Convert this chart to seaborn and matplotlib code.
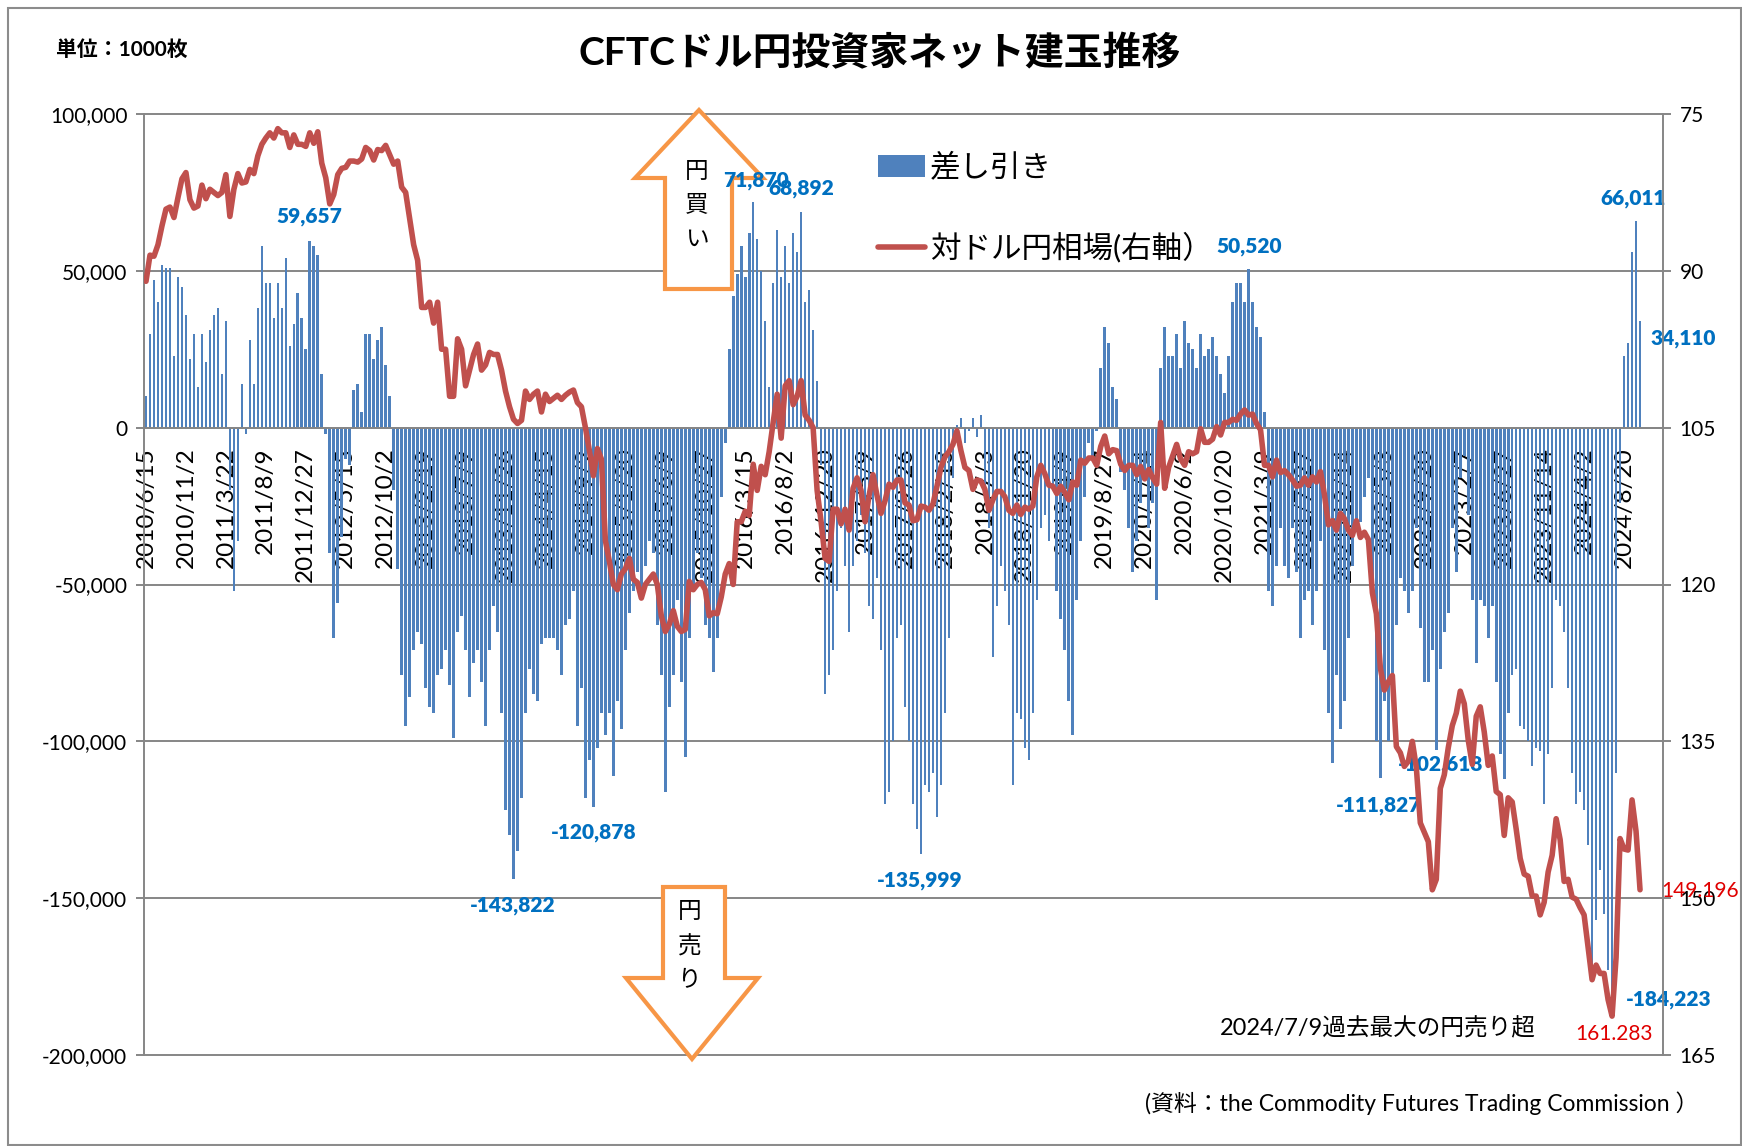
import numpy as np
import pandas as pd
import matplotlib
matplotlib.use('Agg')
import matplotlib.pyplot as plt
import seaborn as sns
from matplotlib.patches import Patch, Polygon, Rectangle
from matplotlib.lines import Line2D
from matplotlib.ticker import FuncFormatter

W, H = 1742, 1146

# CFTC net yen position (1000 contracts), one value every other week from 2010/6/15
net_2010_2014 = [
    10, 30, 47, 40, 52, 51, 51, 23, 48, 45,
    36, 22, 30, 13, 30, 21, 31, 36, 38, 17,
    34, -20, -52, -36, 14, -2, 28, 14, 38, 58,
    46, 46, 35, 46, 38, 54, 26, 33, 43, 35,
    25, 59.657, 58, 55, 17, -2, -40, -67, -56, -35,
    -10, -12, 12, 14, 5, 30, 30, 22, 28, 32,
    20, 10, -20, -45, -79, -95, -86, -71, -65, -69,
    -83, -89, -91, -79, -77, -71, -82, -99, -65, -60,
    -71, -86, -75, -71, -81, -95, -71, -57, -65, -91,
    -122, -130, -143.822, -135, -118, -91, -77, -85, -87, -69,
]
net_2014_2018 = [
    -67, -67, -67, -71, -79, -63, -61, -52, -95, -83,
    -118, -106, -120.878, -102, -91, -98, -91, -111, -87, -96,
    -71, -59, -52, -46, -55, -44, -36, -40, -63, -79,
    -116, -89, -79, -55, -81, -105, -67, -50, -40, -48,
    -63, -67, -78, -67, -22, -5, 25, 42, 49, 58,
    48, 62, 71.870, 60, 50, 34, 13, 46, 63, 48,
    58, 46, 62, 56, 68.892, 40, 44, 31, 15, -12,
    -85, -79, -71, -52, -32, -44, -65, -44, -36, -28,
    -40, -57, -61, -48, -71, -120, -116, -100, -67, -63,
    -89, -100, -120, -128, -135.999, -114, -116, -110, -124, -114,
]
net_2018_2021 = [
    -91, -67, -16, 1, 3, -5, -1, 3, -3, 4,
    -20, -32, -73, -57, -44, -52, -63, -114, -91, -93,
    -102, -106, -91, -55, -32, -28, -36, -20, -52, -61,
    -71, -87, -98, -55, -36, -22, -5, -9, -1, 19,
    32, 27, 13, 9, -14, -20, -32, -46, -36, -24,
    -16, -32, -24, -55, 19, 32, 23, 23, 30, 19,
    34, 27, 25, 19, 30, 23, 25, 29, 23, 17,
    11, 23, 40, 46, 46, 40, 50.520, 40, 32, 29,
    5, -52, -57, -44, -32, -44, -48, -32, -46, -67,
    -55, -52, -63, -52, -36, -71, -91, -107, -79, -96,
]
net_2021_2024 = [
    -87, -67, -44, -32, -30, -22, -16, -48, -100, -111.827,
    -87, -100, -83, -63, -48, -52, -59, -52, -32, -64,
    -81, -81, -71, -102.618, -77, -65, -59, -32, -46, -16,
    -9, -28, -55, -75, -55, -57, -67, -57, -81, -104,
    -112, -91, -79, -77, -95, -96, -100, -108, -102, -103,
    -120, -104, -83, -55, -57, -65, -83, -110, -120, -116,
    -122, -133, -173, -157, -141, -155, -173, -184.223, -110, -24,
    23, 27, 56, 66.011, 34.110,
]

# USD/JPY (right axis), same dates
yen_2010_2014 = [
    91.0, 88.5, 88.6, 87.5, 85.7, 84.1, 83.9, 84.9, 83.0, 81.2,
    80.6, 83.2, 84.0, 83.8, 81.8, 83.1, 82.2, 82.5, 82.8, 82.5,
    80.8, 84.8, 82.2, 80.7, 81.6, 81.5, 80.3, 80.7, 79.0, 77.9,
    77.3, 76.8, 77.3, 76.4, 76.8, 76.8, 78.2, 77.0, 77.9, 77.9,
    78.1, 76.8, 77.8, 76.7, 79.7, 81.1, 83.6, 82.7, 80.8, 80.2,
    80.1, 79.5, 79.5, 79.6, 79.3, 78.2, 78.5, 79.4, 78.4, 78.5,
    78.0, 78.9, 79.8, 79.5, 82.0, 82.5, 85.0, 87.5, 89.0, 93.5,
    93.5, 93.0, 95.0, 93.0, 97.5, 97.5, 102.0, 102.0, 96.5, 97.5,
    101.0, 99.5, 98.0, 97.0, 99.5, 99.0, 97.8, 98.0, 98.0, 99.5,
    101.5, 103.0, 104.2, 104.6, 104.3, 101.5, 102.3, 101.8, 101.5, 103.5,
]
yen_2014_2018 = [
    101.8, 102.5, 102.2, 101.9, 102.3, 101.9, 101.6, 101.4, 102.6, 103.0,
    105.0, 107.2, 109.6, 107.0, 108.0, 115.8, 117.8, 120.0, 120.5, 119.0,
    118.5, 117.5, 119.5, 119.8, 121.3, 120.0, 119.5, 119.0, 120.0, 123.0,
    124.5, 123.8, 122.5, 124.0, 124.5, 124.3, 119.7, 120.5, 120.0, 119.8,
    120.5, 123.0, 122.7, 122.8, 121.2, 119.0, 118.0, 120.0, 114.0, 114.0,
    113.0, 113.4, 108.5, 111.0, 108.7, 109.5, 107.3, 104.5, 101.8, 106.0,
    101.0, 100.5, 102.8, 102.0, 100.5, 103.8, 104.3, 105.0, 111.0, 114.0,
    117.5, 117.8, 112.8, 112.8, 114.2, 112.8, 114.8, 110.8, 109.8, 111.0,
    114.0, 111.5, 109.5, 111.5, 113.2, 112.0, 110.4, 110.7, 110.0, 110.0,
    112.2, 112.4, 113.9, 113.8, 112.5, 112.6, 112.9, 112.3, 110.6, 108.8,
]
yen_2018_2021 = [
    107.8, 107.3, 106.6, 105.3, 107.2, 108.8, 109.1, 110.9, 110.0, 110.1,
    110.9, 112.9, 111.9, 111.1, 111.1, 111.6, 112.9, 113.2, 112.4, 113.3,
    112.6, 112.8, 112.5, 109.7, 108.6, 109.4, 110.5, 110.6, 111.3, 110.6,
    111.2, 111.9, 110.2, 110.5, 108.1, 108.4, 107.9, 107.9, 108.6, 106.8,
    105.8, 107.5, 107.1, 107.2, 108.5, 109.1, 108.6, 108.6, 109.5, 108.7,
    109.9, 109.0, 109.8, 110.4, 104.5, 110.8, 108.8, 107.7, 106.6, 108.0,
    108.6, 107.3, 107.5, 107.3, 105.1, 106.4, 106.4, 106.1, 104.9, 105.7,
    104.5, 104.5, 104.2, 104.3, 103.7, 103.3, 103.8, 103.7, 104.6, 105.2,
    108.6, 108.6, 109.7, 108.1, 109.3, 109.1, 109.5, 110.0, 110.6, 110.5,
    109.8, 110.5, 109.7, 110.2, 109.2, 111.4, 114.3, 113.9, 114.8, 113.2,
]
yen_2021_2024 = [
    113.7, 114.8, 115.3, 113.9, 115.5, 115.0, 115.7, 120.8, 122.8, 128.0,
    130.1, 129.3, 128.7, 135.5, 136.1, 137.4, 136.9, 135.0, 137.5, 142.8,
    143.7, 144.6, 149.2, 148.2, 139.5, 138.2, 135.6, 133.5, 132.3, 130.2,
    131.4, 134.9, 137.2, 132.6, 131.7, 134.1, 137.3, 136.4, 139.8, 140.1,
    144.0, 140.4, 140.8, 143.4, 146.2, 147.7, 147.9, 149.8, 149.8, 151.6,
    150.4, 147.5, 145.9, 142.4, 144.4, 148.4, 148.2, 149.9, 150.1, 150.9,
    151.6, 154.7, 157.8, 156.4, 157.2, 157.2, 159.7, 161.283, 155.7, 144.3,
    145.3, 145.4, 140.6, 143.6, 149.196,
]

tick_labels = [
    '2010/6/15', '2010/11/2', '2011/3/22', '2011/8/9', '2011/12/27',
    '2012/5/15', '2012/10/2', '2013/2/19', '2013/7/9', '2013/11/26',
    '2014/4/15', '2014/9/2', '2015/1/20', '2015/6/9', '2015/10/27',
    '2016/3/15', '2016/8/2', '2016/12/20', '2017/5/9', '2017/9/26',
    '2018/2/13', '2018/7/3', '2018/11/20', '2019/4/9', '2019/8/27',
    '2020/1/14', '2020/6/2', '2020/10/20', '2021/3/9', '2021/7/27',
    '2021/12/14', '2022/5/3', '2022/9/20', '2023/2/7', '2023/6/27',
    '2023/11/14', '2024/4/2', '2024/8/20',
]

# points that carry a value label
net_labelled = [41, 152, 164, 276, 373, 374, 92, 112, 194, 309, 323, 367]
yen_labelled = [367, 374]

BLUE = '#4F81BD'
RED = '#C0504D'
GRID = '#868686'
LABEL_BLUE = '#0070C0'
ORANGE = '#F79646'


def fx(x):
    return x / W


def fy(y):
    return 1 - y / H


def main():
    sns.set_style('white')
    plt.rcParams['font.family'] = ['Lato', 'Noto Sans CJK JP']
    plt.rcParams['text.color'] = 'black'
    plt.rcParams['xtick.color'] = 'black'
    plt.rcParams['ytick.color'] = 'black'

    net = np.array(net_2010_2014 + net_2014_2018 + net_2018_2021 + net_2021_2024)
    yen = np.array(yen_2010_2014 + yen_2014_2018 + yen_2018_2021 + yen_2021_2024)
    df = pd.DataFrame({'week': np.arange(len(net)) * 2, 'net': net, 'yen': yen})

    fig = plt.figure(figsize=(W / 100, H / 100), dpi=100)
    ax = fig.add_axes([fx(144), fy(1055), (1663 - 144) / W, (1055 - 114) / H])

    sns.barplot(data=df, x='week', y='net', native_scale=True, color=BLUE,
                saturation=1, width=0.65, errorbar=None, linewidth=0, ax=ax)

    for v in np.arange(-200, 101, 50):
        ax.axhline(v, color=GRID, lw=1.4, zorder=0.5, clip_on=False)

    ax.set_ylim(-200, 100)
    ax.set_yticks(np.arange(-200, 101, 50))
    ax.yaxis.set_major_formatter(FuncFormatter(lambda v, p: f'{v * 1000:,.0f}'))
    ax.set_xticks(np.arange(0, 20 * len(tick_labels), 20))
    ax.set_xticklabels(tick_labels)
    ax.set_xlabel('')
    ax.set_ylabel('')
    for s in ['top', 'right']:
        ax.spines[s].set_visible(False)
    ax.spines['bottom'].set_position(('data', 0))
    for s in ['bottom', 'left']:
        ax.spines[s].set_color(GRID)
        ax.spines[s].set_linewidth(1.4)
    ax.tick_params(axis='y', direction='out', length=6, width=1.4, color=GRID,
                   labelsize=15, pad=6)
    ax.tick_params(axis='x', direction='in', length=7, width=1.4, color=GRID,
                   labelsize=17.5, pad=14, labelrotation=90)

    for i in net_labelled:
        v = net[i]
        offs = {41: (0, 24), 152: (3, 22), 164: (0, 23), 276: (1, 23),
                373: (-3, 22), 374: (43, -18), 92: (-1, -27), 112: (0, -26),
                194: (-1, -26), 309: (-2, -27), 323: (4, -15), 367: (57, 6)}[i]
        ax.annotate(f'{round(v * 1000):,}', xy=(df.week[i], v),
                    xytext=(offs[0] * 0.72, offs[1] * 0.72), textcoords='offset points',
                    ha='center', va='center', fontsize=15, fontweight='heavy',
                    color=LABEL_BLUE, annotation_clip=False, zorder=4)

    # buy / sell arrows, above gridlines but under the value labels
    up = [(699, 110), (763, 178), (732, 178), (732, 289), (665, 289), (665, 178), (635, 178)]
    down = [(663, 887), (725, 887), (725, 978), (758, 978), (692, 1059), (626, 978), (663, 978)]
    for pts in (up, down):
        ax.add_patch(Polygon([(fx(x), fy(y)) for x, y in pts], closed=True,
                             transform=fig.transFigure, facecolor='white',
                             edgecolor=ORANGE, lw=3, zorder=2, clip_on=False))
    for j, ch in enumerate('円買い'):
        ax.text(fx(697), fy(171 + 34 * j), ch, ha='center', va='center',
                fontsize=17, zorder=3, transform=fig.transFigure)
    for j, ch in enumerate('円売り'):
        ax.text(fx(690), fy(911 + 35 * j), ch, ha='center', va='center',
                fontsize=17, zorder=3, transform=fig.transFigure)

    ax2 = ax.twinx()
    sns.lineplot(data=df, x='week', y='yen', ax=ax2, color=RED, lw=4.0,
                 legend=False, solid_joinstyle='round', solid_capstyle='round')
    ax2.set_ylim(165, 75)
    ax2.set_yticks(np.arange(75, 166, 15))
    ax2.set_ylabel('')
    for s in ['top', 'bottom', 'left']:
        ax2.spines[s].set_visible(False)
    ax2.spines['right'].set_color(GRID)
    ax2.spines['right'].set_linewidth(1.4)
    ax2.tick_params(axis='y', direction='out', length=6, width=1.4, color=GRID,
                    labelsize=15, pad=6)

    for i, offs in zip(yen_labelled, [(2, -18), (60, -1)]):
        ax2.annotate(f'{yen[i]:.3f}', xy=(df.week[i], yen[i]),
                     xytext=(offs[0] * 0.72, offs[1] * 0.72), textcoords='offset points',
                     ha='center', va='center', fontsize=15, color='#E00000',
                     annotation_clip=False)

    ax.set_xlim(-1, 759.5)

    handles = [Patch(facecolor=BLUE, edgecolor='none', label='差し引き'),
               Line2D([], [], color=RED, lw=4.0, label='対ドル円相場(右軸）')]
    ax2.legend(handles=handles, loc='upper left', bbox_to_anchor=(0.475, 0.972),
               frameon=False, fontsize=22, handlelength=1.55, handleheight=0.7,
               handletextpad=0.15, labelspacing=1.65, borderaxespad=0, borderpad=0.4)

    fig.text(fx(880), fy(53), 'CFTCドル円投資家ネット建玉推移', ha='center',
             va='center', fontsize=28, fontweight='bold')
    fig.text(fx(56), fy(50), '単位：1000枚', ha='left', va='center',
             fontsize=15, fontweight='bold')
    fig.text(fx(1378), fy(1028), '2024/7/9過去最大の円売り超', ha='center',
             va='center', fontsize=17)
    fig.text(fx(1698), fy(1103), '(資料：the Commodity Futures Trading Commission ）',
             ha='right', va='center', fontsize=16.5)

    fig.add_artist(Rectangle((fx(8), fy(1145)), (1741 - 8) / W, (1145 - 8) / H,
                             transform=fig.transFigure, fill=False,
                             edgecolor='#8C8C8C', lw=1.5))

    fig.savefig('out.png', dpi=100)


if __name__ == '__main__':
    main()
